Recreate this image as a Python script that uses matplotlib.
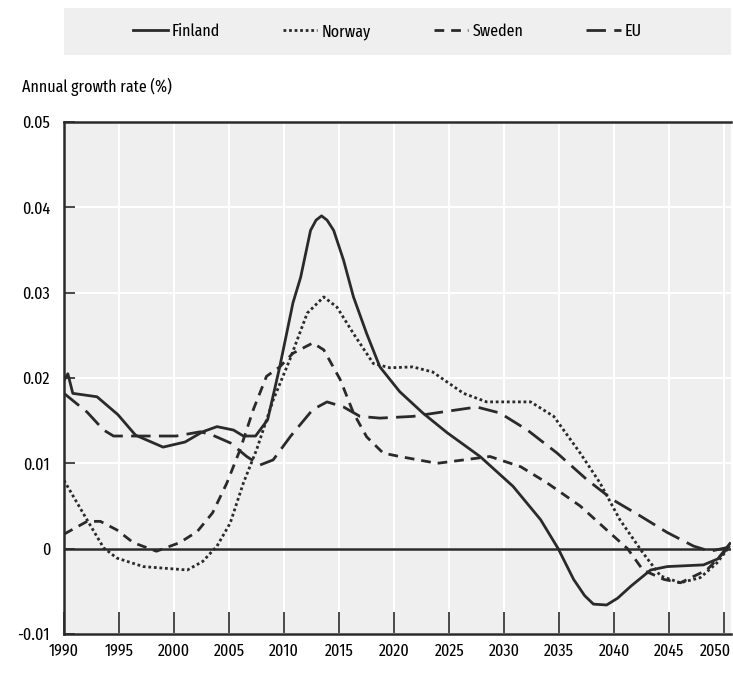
import matplotlib
matplotlib.use("Agg")
import matplotlib.pyplot as plt
import matplotlib.transforms as mtransforms

plt.rcParams['font.family'] = ['Fira Sans Extra Condensed', 'Barlow Condensed', 'Archivo Narrow',
                               'Liberation Sans', 'DejaVu Sans']

# values
fin_years = [1990, 1990.35, 1990.8, 1993, 1994.9, 1996.5, 1999, 2001, 2002.6, 2003.9, 2005.4, 2006.3, 2007.4,
             2008.5, 2009.6, 2010.8, 2011.5, 2012.4, 2012.9, 2013.4, 2013.9, 2014.5, 2015.4, 2016.3, 2017.5,
             2018.7, 2020.5, 2022.6, 2024.8, 2027.8, 2030.8, 2033.3, 2034.9, 2036.3, 2037.3, 2038.1, 2039.3,
             2040.3, 2041.5, 2043.3, 2044.8, 2048.1, 2049.4, 2050.2, 2050.5]
finland = [0.0197, 0.0205, 0.0182, 0.0178, 0.0157, 0.0133, 0.0119, 0.0125, 0.0137, 0.0143, 0.0139, 0.0132, 0.0132,
           0.0151, 0.0213, 0.0288, 0.0318, 0.0373, 0.0385, 0.0390, 0.0385, 0.0373, 0.0338, 0.0295, 0.0252,
           0.0213, 0.0184, 0.0159, 0.0136, 0.0108, 0.0073, 0.0034, 0.0000, -0.0036, -0.0055, -0.0065, -0.0066,
           -0.0058, -0.0044, -0.0025, -0.0021, -0.0019, -0.0012, 0.0001, 0.0006]

nor_years = [1990, 1991.9, 1993.6, 1994.8, 1997.2, 2001.2, 2002.6, 2003.9, 2005.1, 2006.3, 2007.5,
             2009, 2010.5, 2012.1, 2013.6, 2014.8, 2016.3, 2018.1, 2019.6, 2021.7, 2023.5, 2026.3,
             2028.4, 2032.4, 2034.5, 2036.9, 2038.7, 2040.5, 2042.6, 2044.2, 2046, 2047.8, 2049.3, 2050.5]
norway = [0.0080, 0.0038, 0.0001, -0.0011, -0.0021, -0.0025, -0.0015, 0.0003, 0.0030, 0.0077, 0.0116,
          0.0174, 0.0221, 0.0276, 0.0295, 0.0283, 0.0252, 0.0217, 0.0212, 0.0213, 0.0207, 0.0182,
          0.0172, 0.0172, 0.0155, 0.0112, 0.0077, 0.0034, -0.0005, -0.0032, -0.0040, -0.0034, -0.0017, 0.0003]

swe_years = [1990, 1992.1, 1993.3, 1994.8, 1996.3, 1998.4, 2000.5, 2002.1, 2003.5, 2004.8, 2006, 2007.2,
             2008.4, 2009.6, 2010.8, 2012.6, 2013.6, 2015.1, 2016.3, 2017.5, 2019, 2020.5, 2023.9,
             2026.3, 2028.7, 2031.5, 2033.9, 2036.9, 2039.3, 2041.2, 2042.6, 2044.5, 2046, 2048.4, 2050.5]
sweden = [0.0017, 0.0032, 0.0032, 0.0022, 0.0007, -0.0003, 0.0007, 0.0020, 0.0042, 0.0077, 0.0116, 0.0163,
          0.0202, 0.0213, 0.0229, 0.0241, 0.0233, 0.0198, 0.0159, 0.0131, 0.0112, 0.0108, 0.0100,
          0.0104, 0.0108, 0.0096, 0.0077, 0.0050, 0.0022, 0.0000, -0.0025, -0.0036, -0.0040, -0.0025, 0.0003]

eu_years = [1990, 1992.1, 1993.6, 1994.5, 1997.2, 2000.2, 2002.4, 2003.5, 2005.1, 2006.6, 2007.8, 2009,
            2010.6, 2012.6, 2013.9, 2015.4, 2016.9, 2018.7, 2021.7, 2024.8, 2027.5, 2029.6, 2032.1,
            2034.8, 2037.5, 2039.9, 2042.4, 2044.8, 2047.2, 2048.7, 2050.5]
eu = [0.0182, 0.0160, 0.0139, 0.0132, 0.0132, 0.0132, 0.0137, 0.0133, 0.0124, 0.0108, 0.0098, 0.0104,
      0.0132, 0.0163, 0.0172, 0.0166, 0.0155, 0.0153, 0.0155, 0.0161, 0.0166, 0.0159, 0.0139,
      0.0112, 0.0081, 0.0057, 0.0038, 0.0019, 0.0003, -0.0003, 0.0002]

x_ticks = list(range(1990, 2051, 5))
y_ticks = [-0.01, 0, 0.01, 0.02, 0.03, 0.04, 0.05]
y_labels = ["-0.01", "0", "0.01", "0.02", "0.03", "0.04", "0.05"]

W, H = 733, 675
fs = 12.5
fig = plt.figure(figsize=(W / 100, H / 100), dpi=100)
ax = fig.add_axes([64 / W, 1 - 634 / H, 667 / W, 512 / H])
ax.set_facecolor('#efefef')

ink = '#2a2a2a'
ax.plot(fin_years, finland, color=ink, lw=2.0, label='Finland')
ax.plot(nor_years, norway, color=ink, lw=2.0, dashes=(1, 1), label='Norway')
ax.plot(swe_years, sweden, color=ink, lw=2.0, dashes=(3.5, 2.5), label='Sweden')
ax.plot(eu_years, eu, color=ink, lw=2.0, dashes=(7, 3), label='EU')
ax.axhline(0, color=ink, lw=1.8, zorder=1.5)

ax.set_xlim(1990, 2050.6)
ax.set_ylim(-0.01, 0.05)
ax.set_xticks(x_ticks)
ax.set_yticks(y_ticks)
ax.set_yticklabels(y_labels)
ax.grid(True, color='white', lw=1.5)
ax.set_axisbelow(True)
ax.tick_params(axis='x', direction='in', length=16, width=1.2, color=ink, pad=7, labelsize=fs)
ax.tick_params(axis='y', direction='in', length=8, width=1.2, color=ink, pad=10, labelsize=fs)
for side in ['left', 'bottom', 'top']:
    ax.spines[side].set_color(ink)
    ax.spines[side].set_linewidth(1.8)
ax.spines['right'].set_visible(False)

# last year label sits at the figure edge, nudge it inside
last = ax.get_xticklabels()[-1]
last.set_transform(last.get_transform() + mtransforms.ScaledTranslation(-9 / 100, 0, fig.dpi_scale_trans))

fig.text(22 / W, 1 - 87 / H, 'Annual growth rate (%)', ha='left', va='center', fontsize=fs)

# legend strip
lax = fig.add_axes([64 / W, 1 - 55 / H, 667 / W, 47 / H])
lax.set_facecolor('#efefef')
lax.set_xticks([])
lax.set_yticks([])
for s in lax.spines.values():
    s.set_visible(False)
handles, labels = ax.get_legend_handles_labels()
lax.legend(handles, labels, loc='center', ncol=4, frameon=False, fontsize=fs,
           handlelength=2.0, handletextpad=0.25, columnspacing=3.6, bbox_to_anchor=(0.485, 0.5))

fig.savefig('out.png', dpi=100)
